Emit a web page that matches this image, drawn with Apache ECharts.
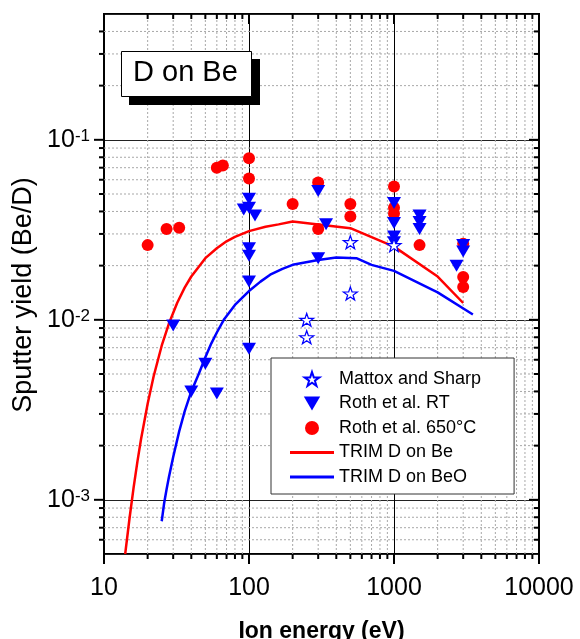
<!DOCTYPE html>
<html><head><meta charset="utf-8">
<script src="https://cdn.jsdelivr.net/npm/echarts@6/dist/echarts.min.js"></script>
<style>html,body{margin:0;padding:0;background:#fff}#c{width:580px;height:639px}</style>
</head><body><div id="c"></div>
<script>
const FONT = "'Liberation Sans', Arial, sans-serif";

// ---- data ----
const mattoxE = [250, 250, 500, 500, 1000];
const mattoxY = [0.0100, 0.0080, 0.027, 0.014, 0.026];

const rothRTE = [30, 40, 50, 60, 92, 100, 100, 110, 100, 100, 100, 100, 300, 300, 340, 1000, 1000, 1000, 1000, 1500, 1500, 1500, 2700, 3000, 3000];
const rothRTY = [0.0093, 0.0040, 0.0057, 0.0039, 0.041, 0.047, 0.042, 0.038, 0.025, 0.0227, 0.0163, 0.0069, 0.052, 0.022, 0.034, 0.0445, 0.0345, 0.029, 0.027, 0.038, 0.035, 0.032, 0.020, 0.026, 0.024];

const roth650E = [20, 27, 33, 60, 66, 100, 100, 200, 300, 300, 500, 500, 1000, 1000, 1000, 1500, 3000, 3000, 3000];
const roth650Y = [0.026, 0.032, 0.0325, 0.070, 0.072, 0.079, 0.061, 0.044, 0.058, 0.032, 0.044, 0.0375, 0.055, 0.042, 0.039, 0.026, 0.0265, 0.0173, 0.0152];

const trimBeE = [14, 15, 16, 17, 18, 20, 22, 25, 28, 32, 36, 40, 50, 60, 70, 80, 100, 130, 160, 200, 500, 1000, 2000, 3000];
const trimBeY = [0.0005, 0.00079, 0.00117, 0.00163, 0.00217, 0.00342, 0.00486, 0.00718, 0.0095, 0.01245, 0.0151, 0.0174, 0.0220, 0.0250, 0.0273, 0.0289, 0.0311, 0.0329, 0.0339, 0.0352, 0.0323, 0.0255, 0.0174, 0.0124];

const trimBeOE = [25, 26, 27, 28, 30, 33, 36, 40, 45, 50, 55, 60, 67, 80, 100, 120, 140, 170, 200, 300, 400, 550, 700, 1000, 2000, 3500];
const trimBeOY = [0.00076, 0.00096, 0.00114, 0.00133, 0.00173, 0.0024, 0.0031, 0.0040, 0.0050, 0.0062, 0.0074, 0.0085, 0.0100, 0.0121, 0.01445, 0.0163, 0.0178, 0.0192, 0.0202, 0.0215, 0.0222, 0.0220, 0.0202, 0.0187, 0.0142, 0.0107];

// ---- axes / ticks ----
const xMin = 10, xMax = 10000;
const yMin = 0.0005, yMax = 0.5;
const xMajorTicks = [10, 100, 1000, 10000];
const xMinorTicks = [20,30,40,50,60,70,80,90,200,300,400,500,600,700,800,900,2000,3000,4000,5000,6000,7000,8000,9000];
const yMajorTicks = [0.001, 0.01, 0.1];
const yMinorTicks = [0.0006,0.0007,0.0008,0.0009,0.002,0.003,0.004,0.005,0.006,0.007,0.008,0.009,0.02,0.03,0.04,0.05,0.06,0.07,0.08,0.09,0.2,0.3,0.4];

const names = ['Mattox and Sharp', 'Roth et al. RT', 'Roth et al. 650°C', 'TRIM D on Be', 'TRIM D on BeO'];

const zip = (a, b) => a.map((v, i) => [v, b[i]]);
const STAR = 'path://M50,0 L61.8,35.1 L98.1,35.1 L68.8,56.7 L79.4,91 L50,70 L20.6,91 L31.2,56.7 L1.9,35.1 L38.2,35.1 Z';
const TRI_DOWN = 'path://M0,0 L14,0 L7,12 Z';
const LINE_ICON = 'path://M0,0 L44,0 L44,3 L0,3 Z';

// tick data: [x, y, length, kind(0=x,1=y)]
const tickData = [];
xMajorTicks.forEach(v => tickData.push([v, yMin, 10, 0]));
xMinorTicks.forEach(v => tickData.push([v, yMin, 5, 0]));
yMajorTicks.forEach(v => tickData.push([xMin, v, 10, 1]));
yMinorTicks.forEach(v => tickData.push([xMin, v, 5, 1]));

const gridData = [];
xMinorTicks.forEach(v => gridData.push([v, yMin, 0, 0]));
yMinorTicks.forEach(v => gridData.push([xMin, v, 0, 1]));

const chart = echarts.init(document.getElementById('c'), null, {renderer: 'canvas'});

const isPow = v => { const e = Math.log10(v); return Math.abs(e - Math.round(e)) < 1e-6; };

chart.setOption({
  animation: false,
  textStyle: {fontFamily: FONT},
  grid: {left: 104, right: 41, top: 14, bottom: 85, containLabel: false, outerBoundsMode: 'none',
    show: true, borderColor: '#000', borderWidth: 2, backgroundColor: 'transparent'},
  xAxis: {
    type: 'log', logBase: 10, min: xMin, max: xMax,
    name: 'Ion energy (eV)', nameLocation: 'middle', nameGap: 66,
    nameTextStyle: {fontSize: 23, fontWeight: 'bold', color: '#000', fontFamily: FONT},
    axisLine: {show: false}, axisTick: {show: false},
    axisLabel: {fontSize: 25, color: '#000', margin: 22, fontFamily: FONT,
      formatter: v => isPow(v) ? String(Math.round(v)) : ''},
    splitLine: {show: true, lineStyle: {color: '#000', width: 1}},
    minorSplitLine: {show: false}
  },
  yAxis: {
    type: 'log', logBase: 10, min: yMin, max: yMax,
    axisLine: {show: false}, axisTick: {show: false},
    axisLabel: {color: '#000', margin: 14, fontFamily: FONT,
      formatter: v => isPow(v) ? '{b|10}{s|' + Math.round(Math.log10(v)) + '}' : '',
      rich: {b: {fontSize: 25, fontFamily: FONT, color: '#000'}, s: {fontSize: 17, fontFamily: FONT, color: '#000', verticalAlign: 'top'}}},
    splitLine: {show: true, lineStyle: {color: '#222', width: 1}},
    minorSplitLine: {show: false}
  },
  legend: {
    data: [
      {name: names[0], icon: STAR},
      {name: names[1], icon: TRI_DOWN},
      {name: names[2], icon: 'circle'},
      {name: names[3], icon: LINE_ICON},
      {name: names[4], icon: LINE_ICON}
    ],
    orient: 'vertical', left: 271, top: 358,
    padding: [11, 33, 7, 19], itemGap: 4.5, itemWidth: 44, itemHeight: 14,
    backgroundColor: '#fff', borderColor: '#333', borderWidth: 1, borderRadius: 0,
    textStyle: {fontSize: 18, color: '#000', fontFamily: FONT, lineHeight: 20}
  },
  series: [
    {type: 'custom', silent: true, clip: false, z: 1, data: gridData,
      encode: {x: 0, y: 1},
      renderItem: (params, api) => {
        const kind = api.value(3);
        let a, b;
        if (kind === 0) { a = api.coord([api.value(0), yMin]); b = api.coord([api.value(0), yMax]); }
        else { a = api.coord([xMin, api.value(1)]); b = api.coord([xMax, api.value(1)]); }
        return {type: 'line', shape: {x1: a[0], y1: a[1], x2: b[0], y2: b[1]},
          style: {stroke: '#a8a8a8', lineWidth: 1, lineDash: [2, 2]}};
      }},
    {type: 'custom', silent: true, clip: false, z: 5, data: tickData,
      encode: {x: 0, y: 1},
      renderItem: (params, api) => {
        const kind = api.value(3), len = api.value(2);
        const st = {stroke: '#000', lineWidth: 2};
        if (kind === 0) {
          const p = api.coord([api.value(0), yMin]), q = api.coord([api.value(0), yMax]);
          return {type: 'group', children: [
            {type: 'line', shape: {x1: p[0], y1: p[1], x2: p[0], y2: p[1] + len}, style: st},
            {type: 'line', shape: {x1: q[0], y1: q[1], x2: q[0], y2: q[1] + len}, style: st}]};
        } else {
          const p = api.coord([xMin, api.value(1)]), q = api.coord([xMax, api.value(1)]);
          return {type: 'group', children: [
            {type: 'line', shape: {x1: p[0], y1: p[1], x2: p[0] - len, y2: p[1]}, style: st},
            {type: 'line', shape: {x1: q[0], y1: q[1], x2: q[0] - len, y2: q[1]}, style: st}]};
        }
      }},
    {name: names[3], type: 'line', data: zip(trimBeE, trimBeY), symbol: 'none', showSymbol: false,
      lineStyle: {color: '#ff0000', width: 2.5, join: 'round'}, itemStyle: {color: '#ff0000'}, z: 2},
    {name: names[4], type: 'line', data: zip(trimBeOE, trimBeOY), symbol: 'none', showSymbol: false,
      lineStyle: {color: '#0000ff', width: 2.5, join: 'round'}, itemStyle: {color: '#0000ff'}, z: 2},
    {name: names[2], type: 'scatter', data: zip(roth650E, roth650Y), symbol: 'circle', symbolSize: 12,
      itemStyle: {color: '#ff0000', opacity: 1}, z: 3},
    {name: names[1], type: 'scatter', data: zip(rothRTE, rothRTY), symbol: TRI_DOWN, symbolSize: [14, 12],
      itemStyle: {color: '#0000ff', opacity: 1}, z: 3},
    {name: names[0], type: 'scatter', data: zip(mattoxE, mattoxY), symbol: STAR, symbolSize: [14, 13],
      itemStyle: {color: '#ffffff', borderColor: '#0000ff', borderWidth: 1.2, opacity: 1}, z: 4}
  ],
  graphic: [
    {type: 'rect', left: 129, top: 59, shape: {width: 131, height: 46}, style: {fill: '#000'}, z: 10},
    {type: 'rect', left: 121, top: 51, shape: {width: 130, height: 45}, style: {fill: '#fff', stroke: '#000', lineWidth: 1}, z: 11},
    {type: 'text', left: 133, top: 58, style: {text: 'D on Be', fontSize: 29, fontFamily: FONT, fill: '#000'}, z: 12},
    {type: 'text', x: 23.6, y: 295, rotation: Math.PI / 2,
      style: {text: 'Sputter yield (Be/D)', fontSize: 27, fontFamily: FONT, fill: '#000', align: 'center', verticalAlign: 'middle'}, z: 12}
  ]
});
</script></body></html>
